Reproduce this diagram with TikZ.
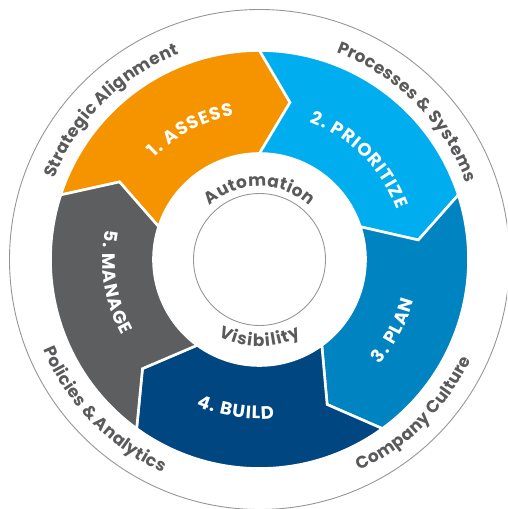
\documentclass[tikz,border=0pt]{standalone}
\usepackage{fontspec}
\setmainfont{Poppins}
\usetikzlibrary{decorations.text}
\definecolor{cA}{RGB}{246,148,0}
\definecolor{cB}{RGB}{0,174,239}
\definecolor{cC}{RGB}{0,131,193}
\definecolor{cD}{RGB}{0,70,128}
\definecolor{cE}{RGB}{93,94,96}
\definecolor{txtgray}{RGB}{90,90,92}
\definecolor{ringgray}{RGB}{150,150,150}
\newcommand\segfont{\fontsize{18pt}{18pt}\selectfont\bfseries}
\newcommand\outfont{\fontsize{17pt}{17pt}\selectfont\bfseries}
\newcommand\infont{\fontsize{17pt}{17pt}\selectfont\bfseries}
\newcommand\trk{\kern1.0pt}
\newcommand\trv{\kern1.1pt}
\newcommand\tra{\kern0.4pt}
\newcommand\tro{\kern0.3pt}
\begin{document}
\begin{tikzpicture}[x=1pt,y=1pt,
  seg/.style={draw=white, line width=2.6pt, line join=miter},
  thinring/.style={draw=ringgray, line width=0.9pt},
  segtext/.style={decorate, decoration={text along path, text align=center, text color=white, text={|\segfont|#1}}},
  outtext/.style={decorate, decoration={text along path, text align=center, text color=txtgray, text={|\outfont|#1}}},
  intext/.style={decorate, decoration={text along path, text align=center, text color=txtgray, text={|\infont|#1}}}]
\useasboundingbox (0,0) rectangle (507,509);
\clip (0,0) rectangle (507,509);
\begin{scope}[shift={(259.5,249.5)}]
  \draw[thinring] (0,0) circle[radius=250pt];
  \foreach \s/\c in {162/cA, 90/cB, 18/cC, -54/cD, -126/cE}{
    \pgfmathsetmacro\e{\s-72}
    \pgfmathsetmacro\t{\e-11}
    \pgfmathsetmacro\u{\s-11}
    \filldraw[fill=\c, seg] (\s:209pt) arc[start angle=\s, end angle=\e, radius=209pt]
      -- (\t:160pt) -- (\e:106pt) arc[start angle=\e, end angle=\s, radius=106pt]
      -- (\u:160pt) -- cycle;
  }
  \draw[thinring] (0,0) circle[radius=66pt];
  % segment labels
  \path[segtext={1{\trk}.{\trk} {\trk}A{\trk}S{\trk}S{\trk}E{\trk}S{\trk}S}] (178:146pt) arc[start angle=178, end angle=58, radius=146pt];
  \path[segtext={2{\trk}.{\trk} {\trk}P{\trk}R{\trk}I{\trk}O{\trk}R{\trk}I{\trk}T{\trk}I{\trk}Z{\trk}E}] (105:146pt) arc[start angle=105, end angle=-15, radius=146pt];
  \path[segtext={3{\trk}.{\trk} {\trk}P{\trk}L{\trk}A{\trk}N}] (-88:159.5pt) arc[start angle=-88, end angle=32, radius=159.5pt];
  \path[segtext={4{\trk}.{\trk} {\trk}B{\trk}U{\trk}I{\trk}L{\trk}D}] (-159:159.5pt) arc[start angle=-159, end angle=-39, radius=159.5pt];
  \path[segtext={5{\trk}.{\trk} {\trk}M{\trk}A{\trk}N{\trk}A{\trk}G{\trk}E}] (129:157pt) arc[start angle=129, end angle=249, radius=157pt];
  % outer labels
  \path[outtext={S{\tro}t{\tro}r{\tro}a{\tro}t{\tro}e{\tro}g{\tro}i{\tro}c {\tro}A{\tro}l{\tro}i{\tro}g{\tro}n{\tro}m{\tro}e{\tro}n{\tro}t}] (195:220.5pt) arc[start angle=195, end angle=75, radius=220.5pt];
  \path[outtext={P{\tro}r{\tro}o{\tro}c{\tro}e{\tro}s{\tro}s{\tro}e{\tro}s {\tro}{\&} {\tro}S{\tro}y{\tro}s{\tro}t{\tro}e{\tro}m{\tro}s}] (105:220.5pt) arc[start angle=105, end angle=-15, radius=220.5pt];
  \path[outtext={C{\tro}o{\tro}m{\tro}p{\tro}a{\tro}n{\tro}y {\tro}C{\tro}u{\tro}l{\tro}t{\tro}u{\tro}r{\tro}e}] (-105:234pt) arc[start angle=-105, end angle=15, radius=234pt];
  \path[outtext={P{\tro}o{\tro}l{\tro}i{\tro}c{\tro}i{\tro}e{\tro}s {\tro}{\&} {\tro}A{\tro}n{\tro}a{\tro}l{\tro}y{\tro}t{\tro}i{\tro}c{\tro}s}] (164:234pt) arc[start angle=164, end angle=284, radius=234pt];
  % inner labels
  \path[intext={A{\tra}u{\tra}t{\tra}o{\tra}m{\tra}a{\tra}t{\tra}i{\tra}o{\tra}n}] (165:73pt) arc[start angle=165, end angle=15, radius=73pt];
  \path[intext={V{\trv}i{\trv}s{\trv}i{\trv}b{\trv}i{\trv}l{\trv}i{\trv}t{\trv}y}] (-165:87pt) arc[start angle=-165, end angle=-15, radius=87pt];
\end{scope}
\end{tikzpicture}
\end{document}
